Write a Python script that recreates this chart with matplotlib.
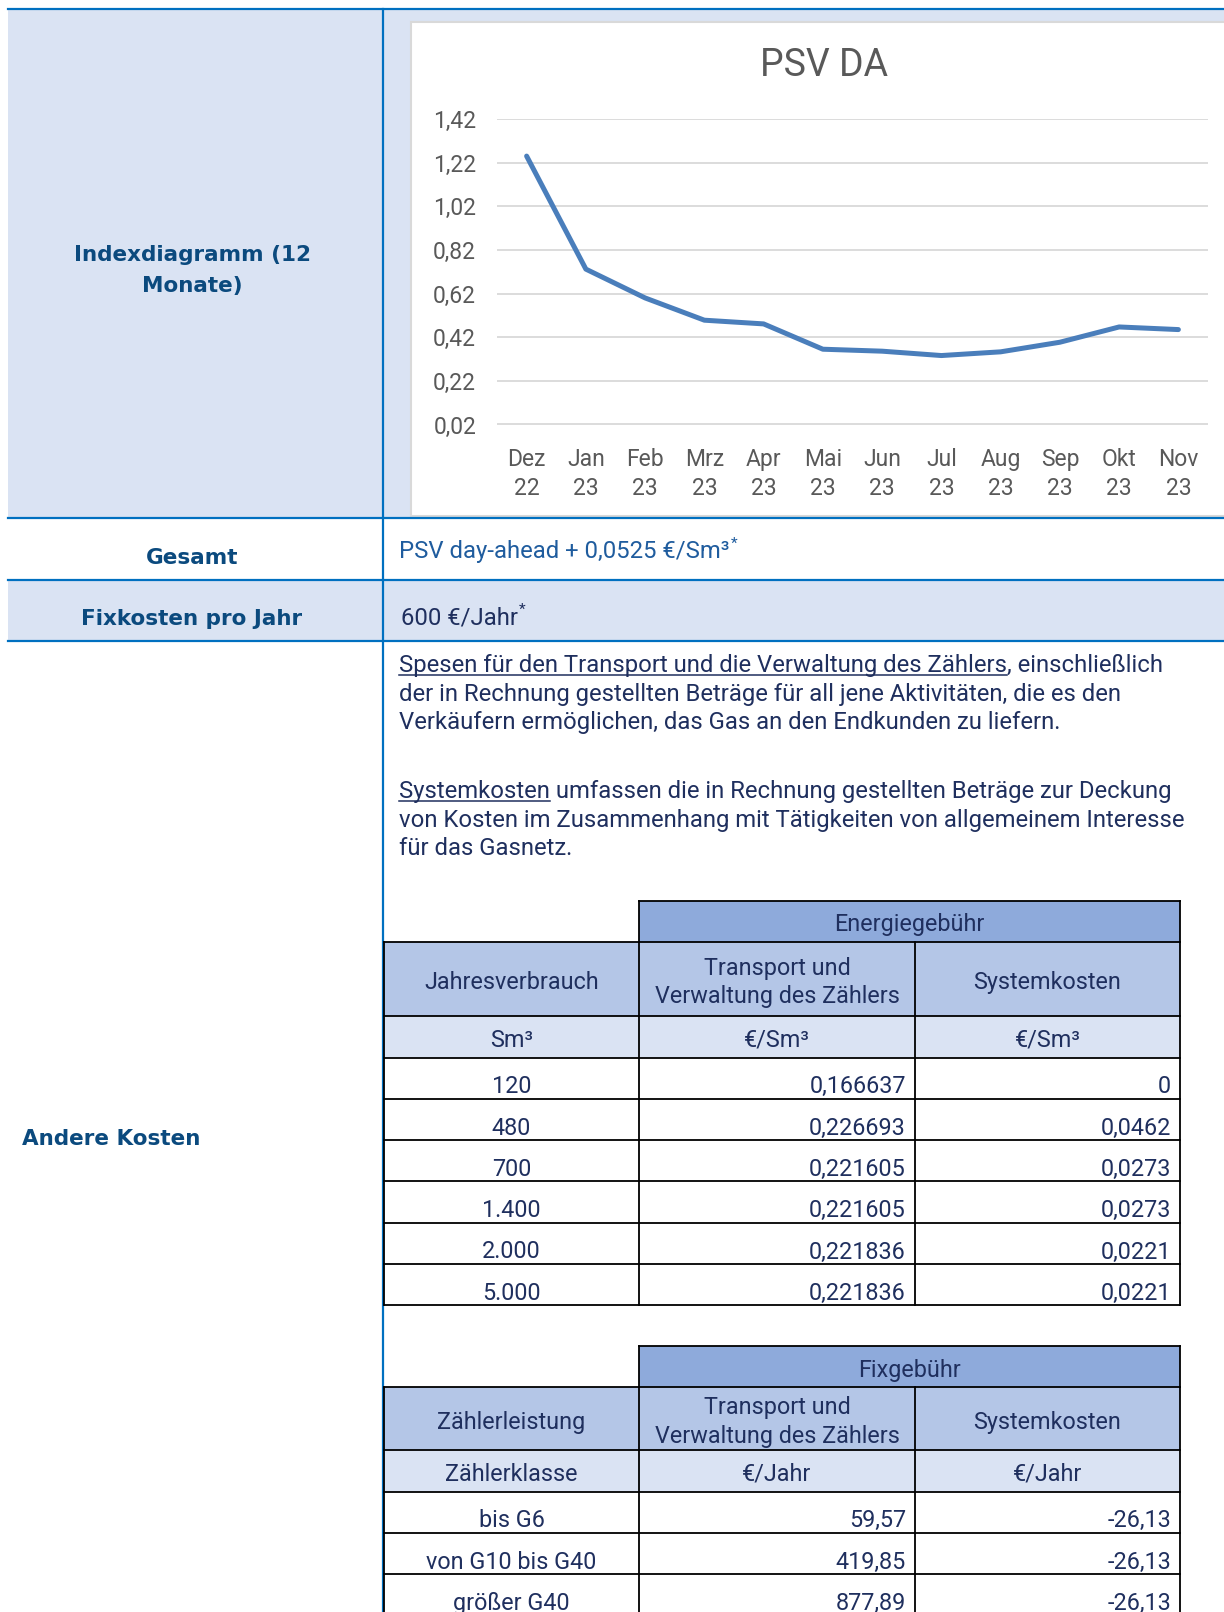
import matplotlib
matplotlib.use("Agg")
import matplotlib.pyplot as plt
from matplotlib.patches import Rectangle

plt.rcParams["font.family"] = ["Roboto", "DejaVu Sans"]

# --- Data ------------------------------------------------------------------
months = ["Dez\n22", "Jan\n23", "Feb\n23", "Mrz\n23", "Apr\n23", "Mai\n23",
          "Jun\n23", "Jul\n23", "Aug\n23", "Sep\n23", "Okt\n23", "Nov\n23"]
psv_da = [1.25, 0.732, 0.600, 0.498, 0.481, 0.365, 0.356, 0.336, 0.353, 0.397, 0.467, 0.455]
y_ticks = [0.02, 0.22, 0.42, 0.62, 0.82, 1.02, 1.22, 1.42]

row_labels = ["Indexdiagramm (12\nMonate)", "Gesamt", "Fixkosten pro Jahr", "Andere Kosten"]
gesamt_text = "PSV day-ahead + 0,0525 €/Sm³"
fixkosten_text = "600 €/Jahr"

para1_link = "Spesen für den Transport und die Verwaltung des Zählers"
para1_lines = [", einschließlich",
               "der in Rechnung gestellten Beträge für all jene Aktivitäten, die es den",
               "Verkäufern ermöglichen, das Gas an den Endkunden zu liefern."]
para2_link = "Systemkosten"
para2_lines = [" umfassen die in Rechnung gestellten Beträge zur Deckung",
               "von Kosten im Zusammenhang mit Tätigkeiten von allgemeinem Interesse",
               "für das Gasnetz."]

energy_heads = ["Jahresverbrauch", "Transport und\nVerwaltung des Zählers", "Systemkosten"]
energy_units = ["Sm³", "€/Sm³", "€/Sm³"]
energy_volume = ["120", "480", "700", "1.400", "2.000", "5.000"]
energy_transport = ["0,166637", "0,226693", "0,221605", "0,221605", "0,221836", "0,221836"]
energy_system = ["0", "0,0462", "0,0273", "0,0273", "0,0221", "0,0221"]

fix_heads = ["Zählerleistung", "Transport und\nVerwaltung des Zählers", "Systemkosten"]
fix_units = ["Zählerklasse", "€/Jahr", "€/Jahr"]
fix_class = ["bis G6", "von G10 bis G40", "größer G40"]
fix_transport = ["59,57", "419,85", "877,89"]
fix_system = ["-26,13", "-26,13", "-26,13"]

# --- Styles ------------------------------------------------------------------
W, H = 1224, 1612
LIGHT = "#DAE3F3"
RULE = "#0070C0"
LABEL = "#0B4A7E"
NAVY = "#1F2F5E"
BOLD = dict(family="DejaVu Sans", weight="bold", size=15.5, color=LABEL)
FS = 17.2   # paragraph text
TS = 16.8   # table text

fig = plt.figure(figsize=(W / 100, H / 100), dpi=100)
bg = fig.add_axes([0, 0, 1, 1])
bg.set_xlim(0, W)
bg.set_ylim(H, 0)
bg.axis("off")
renderer = fig.canvas.get_renderer()


def right_end(t):
    bb = t.get_window_extent(renderer=renderer)
    return bg.transData.inverted().transform((bb.x1, bb.y0))[0]


# --- Grid of the sheet ----------------------------------------------------
bg.add_patch(Rectangle((8, 9), W - 8, 509, fc=LIGHT, lw=0))
bg.add_patch(Rectangle((8, 580), W - 8, 61, fc=LIGHT, lw=0))
bg.add_patch(Rectangle((411, 22), 830, 494, fc="white", ec="#D9D9D9", lw=1.5))
for y in [9, 518, 580, 641]:
    bg.plot([8, W], [y, y], color=RULE, lw=1.6)
bg.plot([383, 383], [9, H], color=RULE, lw=1.6)

# --- Row labels -----------------------------------------------------------
bg.text(192, 270.5, row_labels[0], ha="center", va="center", linespacing=1.65, **BOLD)
bg.text(192, 558, row_labels[1], ha="center", va="center", **BOLD)
bg.text(192, 619, row_labels[2], ha="center", va="center", **BOLD)
bg.text(22, 1139, row_labels[3], ha="left", va="center", **BOLD)

t = bg.text(399, 558, gesamt_text, ha="left", va="baseline", fontsize=FS, color="#1F5C9E")
bg.text(right_end(t) + 1, 548, "*", ha="left", va="baseline", fontsize=11, color="#1F5C9E")
t = bg.text(401, 625, fixkosten_text, ha="left", va="baseline", fontsize=FS, color=NAVY)
bg.text(right_end(t) + 1, 614, "*", ha="left", va="baseline", fontsize=11, color=NAVY)

# --- Paragraphs with underlined lead ---------------------------------------
for link, lines, y0 in [(para1_link, para1_lines, 672), (para2_link, para2_lines, 798)]:
    t = bg.text(399, y0, link, ha="left", va="baseline", fontsize=FS, color=NAVY)
    x1 = right_end(t)
    bg.plot([399, x1], [y0 + 3, y0 + 3], color=NAVY, lw=1.1)
    bg.text(x1, y0, lines[0], ha="left", va="baseline", fontsize=FS, color=NAVY)
    for i, line in enumerate(lines[1:], start=1):
        bg.text(399, y0 + 28.5 * i, line, ha="left", va="baseline", fontsize=FS, color=NAVY)

# --- Tables -----------------------------------------------------------------
cols = [384, 639, 915, 1180]


def draw_table(top, title, head_h, heads, units, first, second, third):
    title_b = top + 41
    head_b = title_b + head_h
    unit_b = head_b + 41.5
    rows = [unit_b + 41.3 * i for i in range(len(first) + 1)]
    bg.add_patch(Rectangle((cols[1], top), cols[3] - cols[1], 41, fc="#8EAADB", lw=0))
    bg.add_patch(Rectangle((cols[0], title_b), cols[3] - cols[0], head_h, fc="#B4C6E7", lw=0))
    bg.add_patch(Rectangle((cols[0], head_b), cols[3] - cols[0], unit_b - head_b, fc=LIGHT, lw=0))
    kw = dict(color="black", lw=1.3, solid_capstyle="projecting")
    bg.plot([cols[1], cols[3]], [top, top], **kw)
    bg.plot([cols[1], cols[1]], [top, title_b], **kw)
    bg.plot([cols[3], cols[3]], [top, title_b], **kw)
    for y in [title_b, head_b] + rows:
        bg.plot([cols[0], cols[3]], [y, y], **kw)
    for x in cols:
        bg.plot([x, x], [title_b, rows[-1]], **kw)
    bg.text((cols[1] + cols[3]) / 2, top + 24, title, ha="center", va="center",
            fontsize=TS, color=NAVY)
    for j in range(3):
        cx = (cols[j] + cols[j + 1]) / 2
        bg.text(cx, (title_b + head_b) / 2 + 3.5, heads[j], ha="center", va="center",
                fontsize=TS, color=NAVY, linespacing=1.3)
        bg.text(cx, (head_b + unit_b) / 2 + 3.5, units[j], ha="center", va="center",
                fontsize=TS, color=NAVY)
    for i in range(len(first)):
        yb = rows[i + 1] - 5.5
        bg.text((cols[0] + cols[1]) / 2, yb, first[i], ha="center", va="baseline",
                fontsize=TS, color=NAVY)
        bg.text(cols[2] - 9, yb, second[i], ha="right", va="baseline", fontsize=TS, color=NAVY)
        bg.text(cols[3] - 9, yb, third[i], ha="right", va="baseline", fontsize=TS, color=NAVY)


draw_table(901, "Energiegebühr", 74, energy_heads, energy_units,
           energy_volume, energy_transport, energy_system)
draw_table(1346, "Fixgebühr", 63, fix_heads, fix_units,
           fix_class, fix_transport, fix_system)

# --- Line chart ---------------------------------------------------------------
bg.text(824, 65, "PSV DA", ha="center", va="center", fontsize=27, color="#595959")

ax = fig.add_axes([497 / W, 1 - 424.5 / H, (1208 - 497) / W, (424.5 - 119) / H])
ax.patch.set_alpha(0)
ax.plot(range(len(months)), psv_da, color="#4A7EBB", lw=3.6,
        solid_joinstyle="round", solid_capstyle="round", zorder=3)
ax.set_xlim(-0.5, len(months) - 0.5)
ax.set_ylim(y_ticks[0], y_ticks[-1])
ax.set_yticks(y_ticks)
ax.set_yticklabels([f"{v:.2f}".replace(".", ",") for v in y_ticks])
ax.set_xticks(range(len(months)))
ax.set_xticklabels(months, linespacing=1.35)
ax.grid(axis="y", color="#D9D9D9", lw=1.3)
ax.set_axisbelow(True)
for s in ax.spines.values():
    s.set_visible(False)
ax.tick_params(length=0, colors="#595959", labelsize=16.5)
ax.tick_params(axis="y", pad=15)
ax.tick_params(axis="x", pad=17)

fig.savefig("out.png", dpi=100)
